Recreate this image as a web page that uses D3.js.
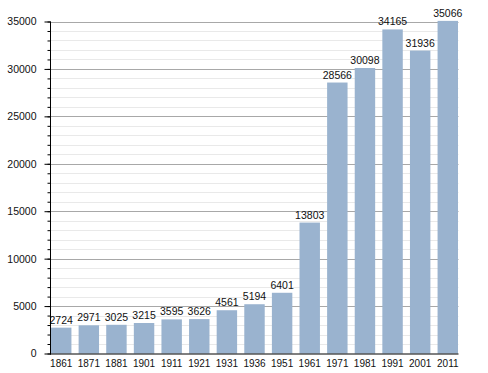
<!DOCTYPE html>
<html>
<head>
<meta charset="utf-8">
<script src="https://cdn.jsdelivr.net/npm/d3@7"></script>
<style>
	body { margin: 0; background: #fff; }
	text { font-family: "Liberation Sans", Arial, sans-serif; fill: #111; }
</style>
</head>
<body>
<svg id="chart" width="488" height="373"></svg>
<script>
// census years and population
var years = ["1861", "1871", "1881", "1901", "1911", "1921", "1931", "1936", "1951", "1961", "1971", "1981", "1991", "2001", "2011"];
var population = [2724, 2971, 3025, 3215, 3595, 3626, 4561, 5194, 6401, 13803, 28566, 30098, 34165, 31936, 35066];
var majorTicks = [0, 5000, 10000, 15000, 20000, 25000, 30000, 35000];

var svg = d3.select("#chart");
// plot area edges (note: "top" would clash with window.top)
var plotLeft = 50, plotRight = 458.5, plotTop = 21.5, plotBottom = 353.5;

var x = d3.scaleBand()
	.domain(years)
	.range([plotLeft + 1, plotRight - 0.5])
	.paddingInner(0.26)
	.paddingOuter(0);

var y = d3.scaleLinear()
	.domain([0, 35000])
	.range([plotBottom, plotTop]);

// minor grid every 1000, major every 5000
var minor = d3.range(1000, 35001, 1000).filter(function(v) { return v % 5000 != 0; });

svg.append("g").selectAll("line")
	.data(minor)
	.enter().append("line")
	.attr("x1", plotLeft).attr("x2", plotRight)
	.attr("y1", function(d) { return Math.round(y(d)) + 0.5; })
	.attr("y2", function(d) { return Math.round(y(d)) + 0.5; })
	.attr("stroke", "#e9e9e9");

svg.append("g").selectAll("line")
	.data(majorTicks.slice(1))
	.enter().append("line")
	.attr("x1", plotLeft).attr("x2", plotRight)
	.attr("y1", function(d) { return Math.round(y(d)) + 0.5; })
	.attr("y2", function(d) { return Math.round(y(d)) + 0.5; })
	.attr("stroke", "#a8a8a8");

// bars
svg.append("g").selectAll("rect")
	.data(population)
	.enter().append("rect")
	.attr("x", function(d, i) { return x(years[i]); })
	.attr("width", x.bandwidth())
	.attr("y", function(d) { return y(d); })
	.attr("height", function(d) { return plotBottom - y(d); })
	.attr("fill", "#9ab3cf");

// value labels
svg.append("g").selectAll("text")
	.data(population)
	.enter().append("text")
	.attr("x", function(d, i) { return x(years[i]) + x.bandwidth() / 2; })
	.attr("y", function(d) { return y(d) - 4; })
	.attr("text-anchor", "middle")
	.style("font-size", "10.5px")
	.text(function(d) { return d; });

// y axis with minor ticks
var yAxis = svg.append("g").attr("transform", "translate(" + (plotLeft + 0.5) + ",0)");
yAxis.call(d3.axisLeft(y).tickValues(d3.range(0, 35001, 1000)).tickSize(3).tickFormat(""))
	.call(function(g) { g.select(".domain").remove(); });
yAxis.selectAll(".tick line").attr("stroke", "#000");
var yMajor = svg.append("g").attr("transform", "translate(" + (plotLeft + 0.5) + ",0)")
	.call(d3.axisLeft(y).tickValues(majorTicks).tickSize(6).tickPadding(8).tickFormat(d3.format("d")));
yMajor.select(".domain").remove();
yMajor.selectAll("text").style("font-size", "10.5px");

svg.append("line")
	.attr("x1", plotLeft + 0.5).attr("x2", plotLeft + 0.5)
	.attr("y1", plotTop).attr("y2", plotBottom + 1)
	.attr("stroke", "#000");

// x axis
var xAxis = svg.append("g").attr("transform", "translate(0," + (plotBottom + 0.5) + ")")
	.call(d3.axisBottom(x).tickSize(0).tickPadding(6));
xAxis.select(".domain").attr("d", "M" + plotLeft + ",0H" + plotRight).attr("stroke", "#000");
xAxis.selectAll("text").style("font-size", "10px");
</script>
</body>
</html>
